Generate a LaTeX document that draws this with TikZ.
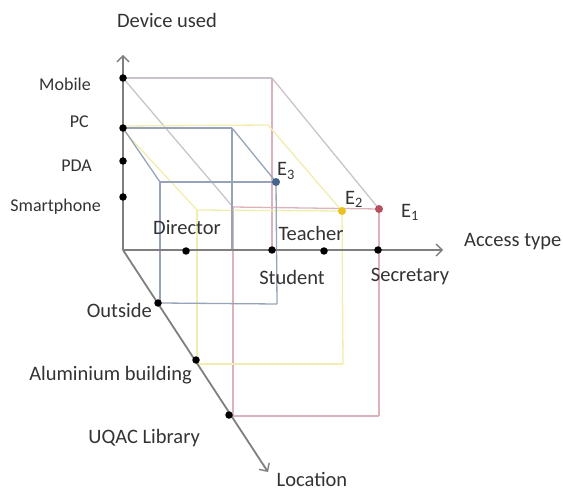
\documentclass[tikz,border=0pt]{standalone}
\usepackage{fontspec}
\setmainfont{Carlito}
\usetikzlibrary{arrows.meta}
\definecolor{axisgray}{HTML}{7F7F7F}
\definecolor{txtgray}{HTML}{333333}
\definecolor{pinkbox}{HTML}{DDB3BB}
\definecolor{pinkdiag}{HTML}{CBC3CB}
\definecolor{yellowbox}{HTML}{F0EDAE}
\definecolor{bluebox}{HTML}{97A3B8}
\definecolor{redpt}{HTML}{B5505F}
\definecolor{yellowpt}{HTML}{E8C21E}
\definecolor{bluept}{HTML}{44668E}
\begin{document}
\begin{tikzpicture}[x=1pt,y=-1pt,
        axis/.style = {draw=axisgray,line width=1.8pt,-{Straight Barb[length=6pt,width=12pt,line width=1.4pt]}},
        dot/.style = {circle,fill=black,inner sep=0pt,minimum size=7.5pt},
        epoint/.style = {circle,inner sep=0pt,minimum size=8pt},
        lbl/.style = {text=txtgray,font=\fontsize{20.5}{22}\selectfont,inner sep=0pt},
        devlbl/.style = {lbl,font=\fontsize{18}{20}\selectfont,anchor=east},
        edge/.style = {line width=1.3pt}]
    \useasboundingbox (0,0) rectangle (563,492);

    % axes
    \coordinate (O) at (123,250);
    \coordinate (vtip) at (123,55);
    \coordinate (htip) at (443,250);
    \coordinate (ltip) at (268,472);

    % box corners
    \coordinate (p2) at (272,78);
    \coordinate (p3) at (233,207);
    \coordinate (p5) at (379,416);
    \coordinate (p6) at (233,416);
    \coordinate (y1) at (268,125);
    \coordinate (y3) at (197,210);
    \coordinate (y4) at (197,364);
    \coordinate (y5) at (343,364);
    \coordinate (b1) at (232,128);
    \coordinate (b2) at (232,250);
    \coordinate (b3) at (160,182);
    \coordinate (b4) at (160,303);
    \coordinate (b5) at (277,304);

    % pink box (E1)
    \draw[edge,pinkdiag] (123,78) -- (p2);
    \draw[edge,pinkdiag] (123,78) -- (p3);
    \draw[edge,pinkdiag] (p2) -- (379,209);
    \draw[edge,pinkbox] (p2) -- (272,250);
    \draw[edge,pinkbox] (p3) -- (379,209);
    \draw[edge,pinkbox] (p3) -- (p6);
    \draw[edge,pinkbox] (379,209) -- (p5);
    \draw[edge,pinkbox] (229,416) -- (p5);

    % yellow box (E2)
    \draw[edge,yellowbox] (123,126) -- (y1);
    \draw[edge,yellowbox] (y1) -- (342,211);
    \draw[edge,yellowbox] (123,130) -- (y3);
    \draw[edge,yellowbox] (y3) -- (342,211);
    \draw[edge,yellowbox] (y3) -- (y4);
    \draw[edge,yellowbox] (342,211) -- (y5);
    \draw[edge,yellowbox] (y4) -- (y5);

    % blue box (E3)
    \draw[edge,bluebox] (123,128) -- (b1);
    \draw[edge,bluebox] (b1) -- (276,182);
    \draw[edge,bluebox] (b1) -- (b2);
    \draw[edge,bluebox] (123,128) -- (b3);
    \draw[edge,bluebox] (b3) -- (276,182);
    \draw[edge,bluebox] (b3) -- (b4);
    \draw[edge,bluebox] (b4) -- (b5);
    \draw[edge,bluebox] (276,182) -- (b5);

    \draw[axis] (O) -- (vtip);
    \draw[axis] (O) -- (htip);
    \draw[axis] (O) -- (ltip);

    % axis values
    \node[dot] (mobile) at (123,78) {};
    \node[dot] (pc) at (123,128) {};
    \node[dot] (pda) at (123,161) {};
    \node[dot] (smartphone) at (123,197) {};
    \node[dot] (director) at (186,251) {};
    \node[dot] (student) at (272,250) {};
    \node[dot] (teacher) at (324,251) {};
    \node[dot] (secretary) at (378,250) {};
    \node[dot] (outside) at (158,303) {};
    \node[dot] (aluminium) at (196,360) {};
    \node[dot] (uqac) at (229,415) {};

    % points
    \node[epoint,fill=redpt] (E1) at (379,209) {};
    \node[epoint,fill=yellowpt] (E2) at (342,211) {};
    \node[epoint,fill=bluept] (E3) at (276,182) {};

    % labels
    \node[lbl] at (167,20) {Device used};
    \node[devlbl] at (91,84) {Mobile};
    \node[devlbl] at (89,122) {PC};
    \node[devlbl] at (92,166) {PDA};
    \node[devlbl] at (101,207) {Smartphone};
    \node[lbl] at (187,228) {Director};
    \node[lbl] at (311,233) {Teacher};
    \node[lbl] at (292,277) {Student};
    \node[lbl] at (410,276) {Secretary};
    \node[lbl,anchor=west] at (464,242) {Access type};
    \node[lbl,anchor=east] at (152,310) {Outside};
    \node[lbl,anchor=east] at (192,375) {Aluminium building};
    \node[lbl,anchor=east] at (200,438) {UQAC Library};
    \node[lbl] at (312,479) {Location};
    \node[lbl,anchor=west] at (277,171) {E\textsubscript{3}};
    \node[lbl,anchor=west] at (345,199) {E\textsubscript{2}};
    \node[lbl,anchor=west] at (401,212) {E\textsubscript{1}};
\end{tikzpicture}
\end{document}
